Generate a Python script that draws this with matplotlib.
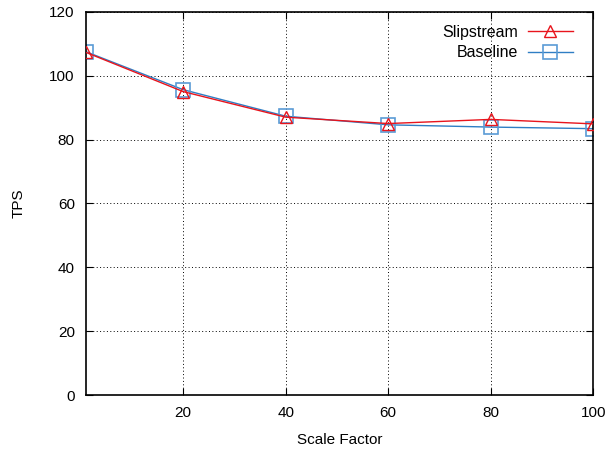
import matplotlib.pyplot as plt

scale = [1, 20, 40, 60, 80, 100]
slipstream = [107.3, 95.0, 87.0, 85.0, 86.3, 84.9]
baseline = [107.5, 95.6, 87.3, 84.6, 83.9, 83.4]

plt.rcParams['font.family'] = ['Liberation Sans', 'DejaVu Sans']

fig = plt.figure(figsize=(6.09, 4.53), dpi=100)
ax = fig.add_axes([0.141, 0.128, 0.833, 0.846])

ax.plot(scale, slipstream, color='#e8141c', lw=1, marker='^', ms=9,
        mfc='none', mec='#e8141c', mew=1, label='Slipstream', zorder=3)
ax.plot(scale, baseline, color='#2f7ec4', lw=1, marker='s', ms=9.5,
        mfc='none', mec='#5a9bd5', mew=1.2, label='Baseline', zorder=2)

ax.set_xlim(1, 100)
ax.set_ylim(0, 120)
ax.set_xticks([20, 40, 60, 80, 100])
ax.set_yticks(range(0, 121, 20))
ax.grid(True, color='black', linestyle=(0, (1, 2.5)), lw=0.7)
ax.tick_params(direction='in', top=True, right=True, length=5, labelsize=11, pad=8)
for s in ax.spines.values():
    s.set_linewidth(1.2)

ax.set_xlabel('Scale Factor', fontsize=11, labelpad=9)
ax.set_ylabel('TPS', fontsize=11, labelpad=17)

leg = ax.legend(loc='upper right', frameon=False, markerfirst=False, fontsize=11.5,
                handlelength=2.8, handletextpad=0.6, labelspacing=0.35,
                borderaxespad=0.4, bbox_to_anchor=(0.985, 1.0))

fig.savefig('out.png', dpi=100)
